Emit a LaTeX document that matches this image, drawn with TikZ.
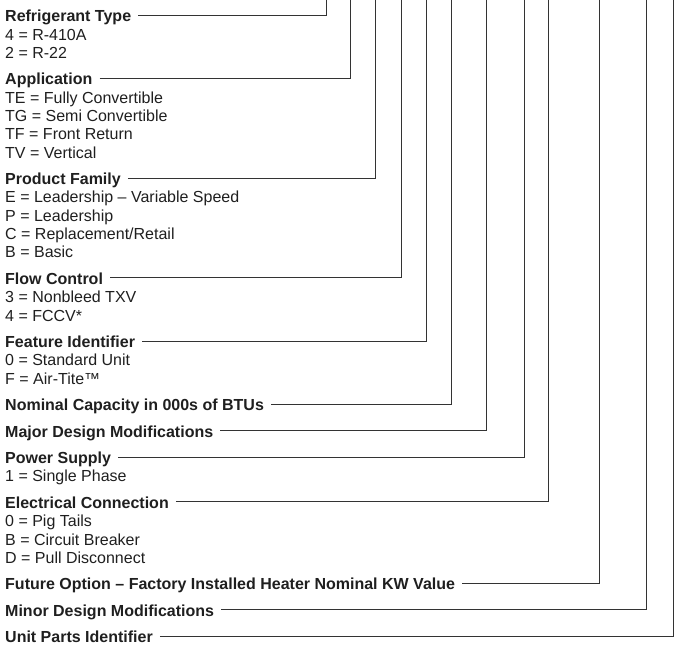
\documentclass[tikz,border=0pt]{standalone}
\usepackage{fontspec}
\setmainfont{Liberation Sans}
\definecolor{linegray}{rgb}{0.2,0.2,0.2}
\definecolor{textgray}{rgb}{0.12,0.12,0.12}
\tikzset{
  head/.style={anchor=base west, inner sep=0pt, text=textgray,
    font=\fontsize{16}{18}\selectfont\bfseries},
  item/.style={anchor=base west, inner sep=0pt, text=textgray,
    font=\fontsize{16}{18}\selectfont},
  leader/.style={draw=linegray, line width=1pt}
}
\begin{document}
\begin{tikzpicture}[x=1pt,y=-1pt]
  \useasboundingbox (0,0) rectangle (681,650);

  % headings, each with its leader up to the top edge
  \foreach \name/\ypos/\xpos/\txt in {rt/22/326.7/Refrigerant Type,
      ap/85/350/Application, pf/184.7/375/Product Family,
      fc/284.4/401/Flow Control, fi/347.5/426/Feature Identifier,
      nc/410.6/451/Nominal Capacity in 000s of BTUs,
      md/437.1/486.7/Major Design Modifications, ps/463.6/524/Power Supply,
      ec/508.4/548.3/Electrical Connection,
      fo/589.8/599.3/Future Option – Factory Installed Heater Nominal KW Value,
      mn/616.3/646.7/Minor Design Modifications,
      up/642.8/673.3/Unit Parts Identifier}{
    \node[head] (\name) at (5,\ypos) {\txt};
    \coordinate (\name top) at (\xpos,0);
    \draw[leader] ([xshift=7pt,yshift=6.5pt]\name.base east) -| (\name top);
  }

  % code values under the headings
  \foreach \name/\ypos/\txt in {rt1/40.2/4 = R-410A, rt2/58.5/2 = R-22,
      ap1/103.3/TE = Fully Convertible, ap2/121.6/TG = Semi Convertible,
      ap3/139.9/TF = Front Return, ap4/158.2/TV = Vertical,
      pf1/203/E = Leadership – Variable Speed, pf2/221.3/P = Leadership,
      pf3/239.6/{C = Replacement/Retail}, pf4/257.9/B = Basic,
      fc1/302.7/3 = Nonbleed TXV, fc2/321/4 = FCCV*,
      fi1/365.8/0 = Standard Unit, fi2/384.1/F = Air-Tite™,
      ps1/481.9/1 = Single Phase,
      ec1/526.7/0 = Pig Tails, ec2/545/B = Circuit Breaker,
      ec3/563.3/D = Pull Disconnect}{
    \node[item] (\name) at (5,\ypos) {\txt};
  }
\end{tikzpicture}
\end{document}
